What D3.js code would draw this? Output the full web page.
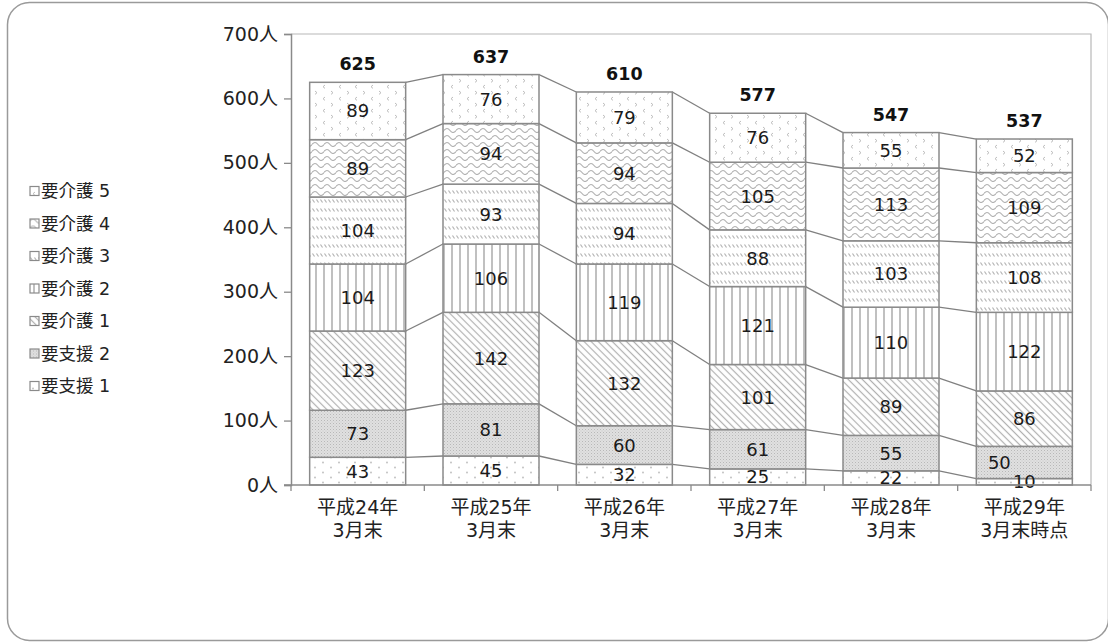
<!DOCTYPE html>
<html>
<head>
<meta charset="utf-8">
<script src="https://cdn.jsdelivr.net/npm/d3@7"></script>
<style>
  html, body { margin: 0; padding: 0; background: #fff; }
  svg { display: block; font-family: "DejaVu Sans", "Noto Sans CJK JP", sans-serif; }
</style>
</head>
<body>
<svg id="chart" width="1108" height="642"></svg>
<script>
// 要介護（要支援）認定者数の推移
const categories = [
  ["平成24年", "3月末"],
  ["平成25年", "3月末"],
  ["平成26年", "3月末"],
  ["平成27年", "3月末"],
  ["平成28年", "3月末"],
  ["平成29年", "3月末時点"]
];
const seriesNames = ["要支援 1", "要支援 2", "要介護 1", "要介護 2", "要介護 3", "要介護 4", "要介護 5"];
const shien1  = [43, 45, 32, 25, 22, 10];
const shien2  = [73, 81, 60, 61, 55, 50];
const kaigo1  = [123, 142, 132, 101, 89, 86];
const kaigo2  = [104, 106, 119, 121, 110, 122];
const kaigo3  = [104, 93, 94, 88, 103, 108];
const kaigo4  = [89, 94, 94, 105, 113, 109];
const kaigo5  = [89, 76, 79, 76, 55, 52];
const totals  = [625, 637, 610, 577, 547, 537];
const yTicks  = [0, 100, 200, 300, 400, 500, 600, 700];

const seriesValues = [shien1, shien2, kaigo1, kaigo2, kaigo3, kaigo4, kaigo5];
const catKeys = categories.map(c => c.join(""));
const rows = catKeys.map((k, i) => {
  const r = { key: k };
  seriesNames.forEach((s, j) => r[s] = seriesValues[j][i]);
  return r;
});
const stacked = d3.stack().keys(seriesNames)(rows);

const svg = d3.select("#chart");
const defs = svg.append("defs");
const pc = "#b0b0b0";

// fill patterns, one per series
function pat(id, w, h, bg, transform) {
  const p = defs.append("pattern").attr("id", id)
    .attr("patternUnits", "userSpaceOnUse").attr("width", w).attr("height", h);
  if (transform) p.attr("patternTransform", transform);
  p.append("rect").attr("width", w).attr("height", h).attr("fill", bg);
  return p;
}
// 要支援1: sparse dots
{
  const p = pat("p0", 16, 10, "#fff");
  p.append("circle").attr("cx", 3).attr("cy", 2.5).attr("r", 0.9).attr("fill", "#bcbcbc");
  p.append("circle").attr("cx", 11).attr("cy", 7.5).attr("r", 0.9).attr("fill", "#bcbcbc");
}
// 要支援2: fine grey stipple
{
  const p = pat("p1", 3, 3, "#e0e0e0");
  p.append("rect").attr("x", 0).attr("y", 0).attr("width", 1).attr("height", 1).attr("fill", "#b8b8b8");
  p.append("rect").attr("x", 1.5).attr("y", 1.5).attr("width", 1).attr("height", 1).attr("fill", "#c8c8c8");
}
// 要介護1: diagonal lines
{
  const p = pat("p2", 5, 5, "#fff", "rotate(-45)");
  p.append("line").attr("x1", 1.5).attr("y1", 0).attr("x2", 1.5).attr("y2", 5)
    .attr("stroke", pc).attr("stroke-width", 1.2);
}
// 要介護2: vertical lines
{
  const p = pat("p3", 8, 8, "#fff");
  p.append("line").attr("x1", 4).attr("y1", 0).attr("x2", 4).attr("y2", 8)
    .attr("stroke", pc).attr("stroke-width", 1.6);
}
// 要介護3: rows of short slanted dashes
{
  const p = pat("p4", 4, 9, "#fff");
  p.append("line").attr("x1", 0.5).attr("y1", 1.5).attr("x2", 2.5).attr("y2", 4.5)
    .attr("stroke", pc).attr("stroke-width", 1.1);
}
// 要介護4: waves
{
  const p = pat("p5", 12, 7, "#fff");
  p.append("path").attr("d", "M0,4.5 Q3,0.5 6,4.5 T12,4.5")
    .attr("fill", "none").attr("stroke", pc).attr("stroke-width", 1.1);
}
// 要介護5: scattered chevrons
{
  const p = pat("p6", 16, 12, "#fff");
  p.append("path").attr("d", "M5,1 L3,2.7 L5,4.4")
    .attr("fill", "none").attr("stroke", "#b4b4b4").attr("stroke-width", 0.9);
  p.append("path").attr("d", "M11,7 L13,8.7 L11,10.4")
    .attr("fill", "none").attr("stroke", "#b4b4b4").attr("stroke-width", 0.9);
}

// outer rounded frame
svg.append("rect").attr("x", 7.5).attr("y", 2.5).attr("width", 1101).attr("height", 638)
  .attr("rx", 22).attr("fill", "#fff").attr("stroke", "#9a9a9a").attr("stroke-width", 1.5);

const plotL = 291, plotR = 1091, plotT = 34, plotB = 485;
const x = d3.scaleBand().domain(catKeys).range([plotL, plotR]).paddingInner(0.28).paddingOuter(0.14);
const y = d3.scaleLinear().domain([0, 700]).range([plotB, plotT]);

// plot area frame (top/right)
svg.append("path").attr("d", `M${plotL},${plotT}H${plotR}V${plotB}`)
  .attr("fill", "none").attr("stroke", "#b8b8b8").attr("stroke-width", 1.2);

// series lines between neighbouring bars
const bw = x.bandwidth();
stacked.forEach(s => {
  for (let i = 0; i < catKeys.length - 1; i++) {
    svg.append("line")
      .attr("x1", x(catKeys[i]) + bw).attr("y1", y(s[i][1]))
      .attr("x2", x(catKeys[i + 1])).attr("y2", y(s[i + 1][1]))
      .attr("stroke", "#808080").attr("stroke-width", 1.3);
  }
});

// stacked bars
stacked.forEach((s, j) => {
  svg.append("g").selectAll("rect").data(s).join("rect")
    .attr("x", d => x(d.data.key))
    .attr("y", d => y(d[1]))
    .attr("width", bw)
    .attr("height", d => y(d[0]) - y(d[1]))
    .attr("fill", `url(#p${j})`)
    .attr("stroke", "#8a8a8a").attr("stroke-width", 1.5);
});

// value labels
stacked.forEach((s, j) => {
  s.forEach((d, i) => {
    const v = d[1] - d[0];
    let cx = x(d.data.key) + bw / 2;
    // move aside when the segment below is too thin for its own label
    if (j > 0) {
      const below = stacked[j - 1][i];
      if (below[1] - below[0] < 15) cx -= 25;
    }
    svg.append("text").attr("x", cx).attr("y", y((d[0] + d[1]) / 2))
      .attr("text-anchor", "middle").attr("dominant-baseline", "central")
      .attr("font-size", 18).attr("fill", "#1a1a1a").text(v);
  });
});

// totals above bars
svg.append("g").selectAll("text").data(totals).join("text")
  .attr("x", (d, i) => x(catKeys[i]) + bw / 2)
  .attr("y", d => y(d) - 12)
  .attr("text-anchor", "middle")
  .attr("font-size", 17.5).attr("font-weight", 700).attr("fill", "#111")
  .text(d => d);

// y axis
const yAxis = svg.append("g").attr("transform", `translate(${plotL},0)`)
  .call(d3.axisLeft(y).tickValues(yTicks).tickSize(7).tickPadding(6).tickFormat(d => d + "人"));
yAxis.select(".domain").attr("stroke", "#8a8a8a").attr("stroke-width", 1.5);
yAxis.selectAll(".tick line").attr("stroke", "#8a8a8a").attr("stroke-width", 1.3);
yAxis.selectAll(".tick text").attr("font-size", 19).attr("fill", "#222")
  .attr("font-family", "\"DejaVu Sans\", \"Noto Sans CJK JP\", sans-serif");

// x axis: baseline, boundary ticks and two-line labels
svg.append("line").attr("x1", plotL - 7).attr("x2", plotR).attr("y1", plotB).attr("y2", plotB)
  .attr("stroke", "#8a8a8a").attr("stroke-width", 1.5);
const step = x.step();
d3.range(catKeys.length + 1).forEach(i => {
  const bx = plotL + i * step;
  svg.append("line").attr("x1", bx).attr("x2", bx).attr("y1", plotB).attr("y2", plotB + 6)
    .attr("stroke", "#8a8a8a").attr("stroke-width", 1.3);
});
categories.forEach((c, i) => {
  const t = svg.append("text").attr("text-anchor", "middle")
    .attr("font-size", 19).attr("fill", "#222");
  c.forEach((line, k) => {
    t.append("tspan").attr("x", x(catKeys[i]) + bw / 2).attr("y", 514 + k * 23).text(line);
  });
});

// legend, top-down from 要介護5
const legendItems = seriesNames.map((n, j) => ({ n, j })).reverse();
const lg = svg.append("g").selectAll("g").data(legendItems).join("g")
  .attr("transform", (d, k) => `translate(30,${191 + k * 32.5})`);
lg.append("rect").attr("x", 0).attr("y", -4.5).attr("width", 9).attr("height", 9)
  .attr("fill", d => `url(#p${d.j})`).attr("stroke", "#8a8a8a").attr("stroke-width", 1.2);
lg.append("text").attr("x", 11).attr("y", 0).attr("dominant-baseline", "central")
  .attr("font-size", 17.5).attr("fill", "#222").text(d => d.n);
</script>
</body>
</html>
